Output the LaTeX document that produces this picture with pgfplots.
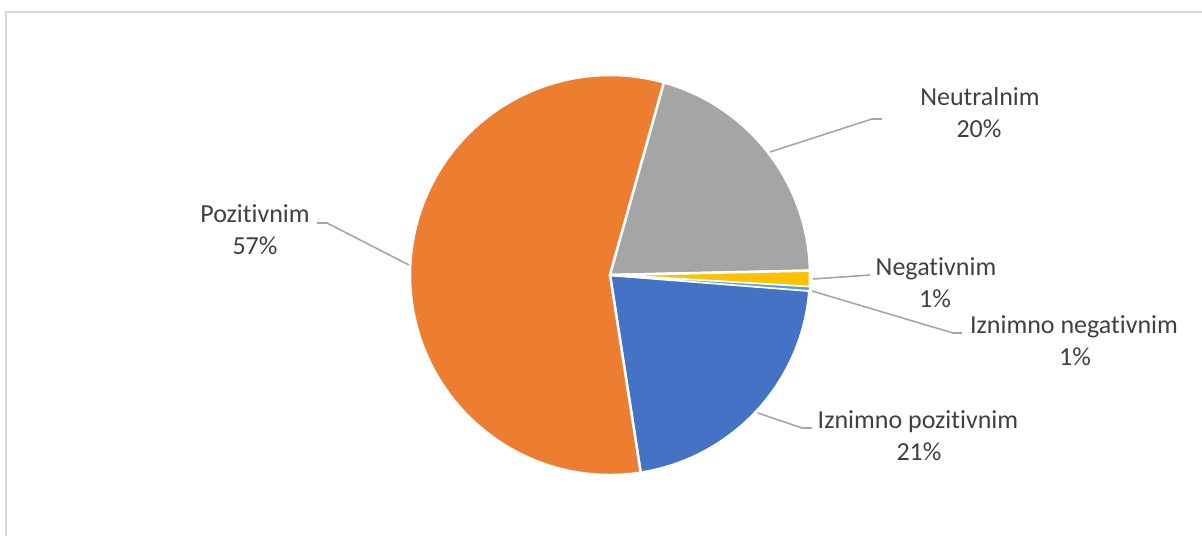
\documentclass[border=0pt]{standalone}
\usepackage{pgfplots}
\pgfplotsset{compat=1.18}
\usepackage{fontspec}
\setmainfont{Carlito}[Ligatures={NoCommon}]
\definecolor{pblue}{HTML}{4472C4}
\definecolor{porange}{HTML}{ED7D31}
\definecolor{pgray}{HTML}{A5A5A5}
\definecolor{pyellow}{HTML}{FFC000}
\definecolor{plblue}{HTML}{5B9BD5}
\definecolor{txt}{HTML}{404040}
\definecolor{lead}{HTML}{A6A6A6}
\definecolor{frame}{HTML}{D9D9D9}
\newcommand\lblfont{\fontsize{26bp}{32bp}\selectfont}
\tikzset{lbl/.style={font=\lblfont, text=txt, inner sep=0pt, anchor=base}}
\begin{document}
\begin{tikzpicture}
\begin{axis}[hide axis, scale only axis, width=1202bp, height=536bp,
  xmin=0, xmax=1202, ymin=0, ymax=536, y dir=reverse, clip=false]
\addplot[draw=none] coordinates {(610,275)};
% frame
\draw[frame, line width=1.5bp] (axis cs:1215,12) -- (axis cs:6,12) -- (axis cs:6,550);
% slices (percent values): Iznimno pozitivnim 21.3, Pozitivnim 56.8, Neutralnim 20.3, Negativnim 1.3, Iznimno negativnim 0.3
\fill[pblue, draw=white, line width=2.5bp] (axis cs:610,275) -- ++(-4.5:200bp)
  arc[start angle=-4.5, delta angle=-21.3*3.6, radius=200bp] -- cycle;
\fill[porange, draw=white, line width=2.5bp] (axis cs:610,275) -- ++(-4.5-21.3*3.6:200bp)
  arc[start angle=-4.5-21.3*3.6, delta angle=-56.8*3.6, radius=200bp] -- cycle;
\fill[pgray, draw=white, line width=2.5bp] (axis cs:610,275) -- ++(-4.5-78.1*3.6:200bp)
  arc[start angle=-4.5-78.1*3.6, delta angle=-20.3*3.6, radius=200bp] -- cycle;
\fill[pyellow, draw=white, line width=2.5bp] (axis cs:610,275) -- ++(-4.5-98.4*3.6:200bp)
  arc[start angle=-4.5-98.4*3.6, delta angle=-1.3*3.6, radius=200bp] -- cycle;
\fill[plblue, draw=white, line width=1bp] (axis cs:610,275) -- ++(-4.5-99.7*3.6:200bp)
  arc[start angle=-4.5-99.7*3.6, delta angle=-0.3*3.6, radius=200bp] -- cycle;
% leader lines
\draw[lead, line width=1.6bp] (axis cs:770,152) -- (axis cs:872,119) -- (axis cs:882,119);
\draw[lead, line width=1.6bp] (axis cs:409,265) -- (axis cs:327,223) -- (axis cs:317,223);
\draw[lead, line width=1.6bp] (axis cs:813,279) -- (axis cs:870,275);
\draw[lead, line width=1.6bp] (axis cs:812,291) -- (axis cs:953,333) -- (axis cs:962,333);
\draw[lead, line width=1.6bp] (axis cs:758,413) -- (axis cs:802,428) -- (axis cs:812,428);
% labels
\node[lbl] at (axis cs:980,105) {Neutralnim};
\node[lbl] at (axis cs:979,137) {20\%};
\node[lbl] at (axis cs:255,222) {Pozitivnim};
\node[lbl] at (axis cs:255,254) {57\%};
\node[lbl] at (axis cs:936,275) {Negativnim};
\node[lbl] at (axis cs:935,307) {1\%};
\node[lbl] at (axis cs:1074,333) {Iznimno negativnim};
\node[lbl] at (axis cs:1075,365) {1\%};
\node[lbl] at (axis cs:918,428) {Iznimno pozitivnim};
\node[lbl] at (axis cs:919,460) {21\%};
\end{axis}
\pgfresetboundingbox
\path[use as bounding box] (0,0) rectangle (1202bp,536bp);
\end{tikzpicture}
\end{document}
